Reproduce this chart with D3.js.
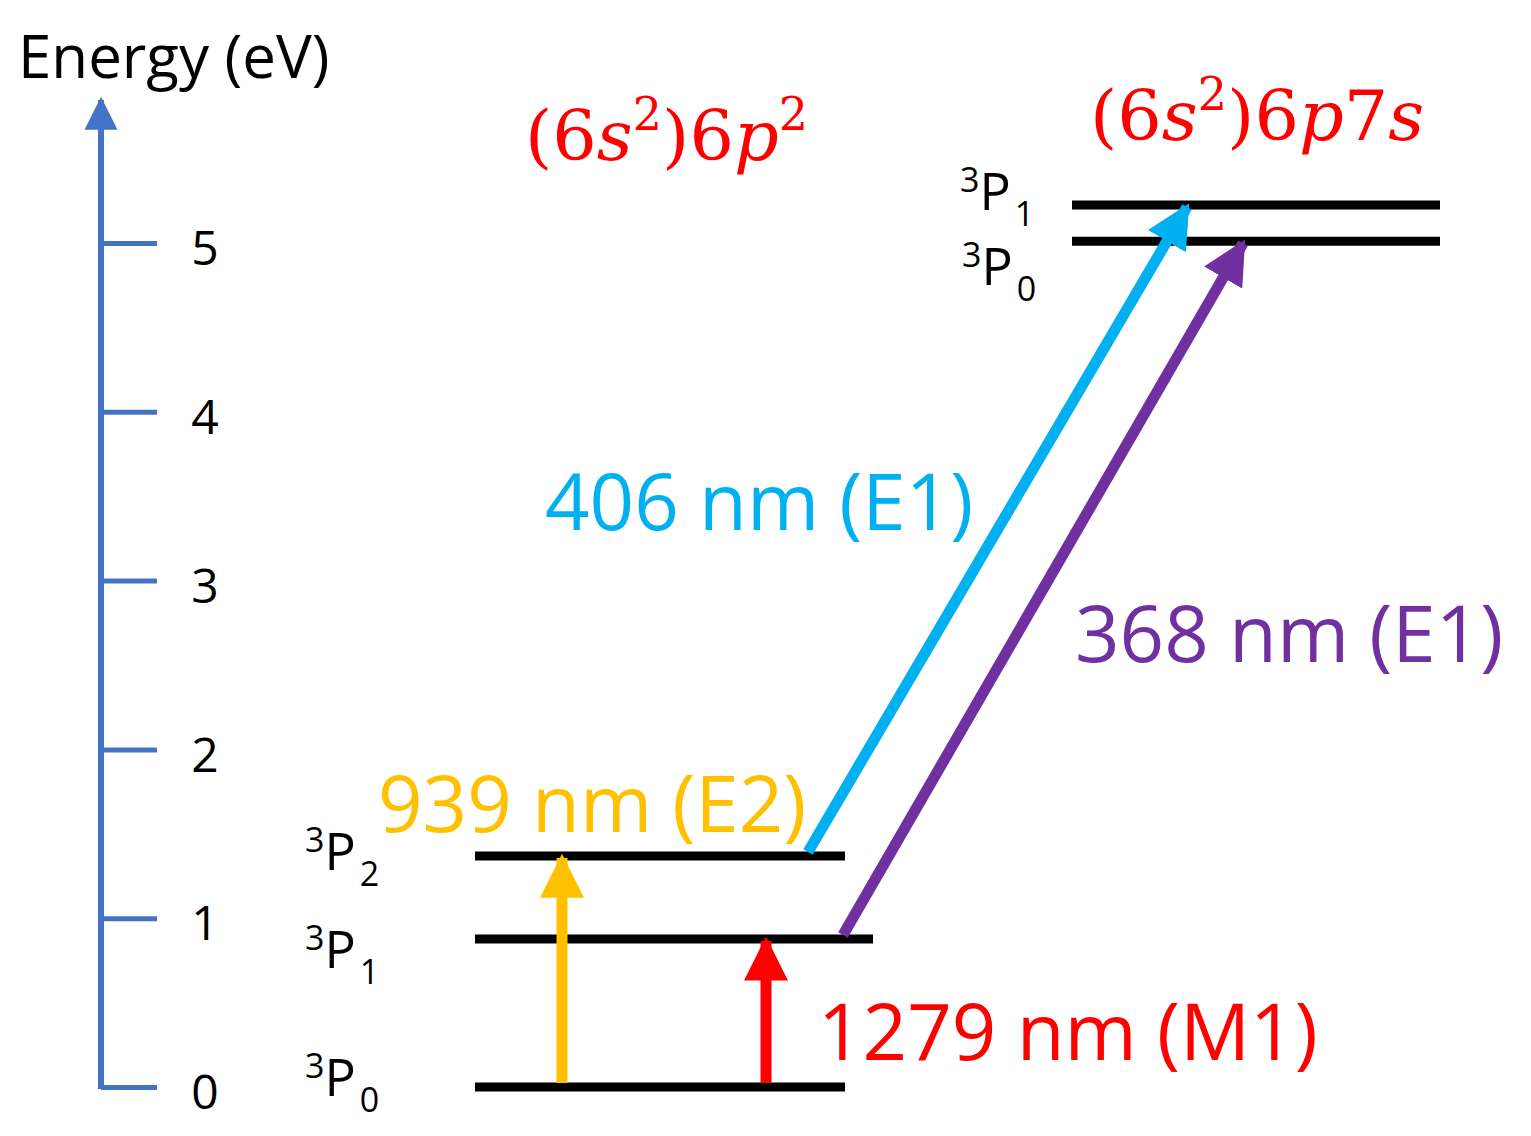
<!DOCTYPE html>
<html>
<head>
  <meta charset="utf-8">
  <title>Pb energy levels</title>
  <style>
    body { margin: 0; background: #fff; }
    svg { display: block; }
    text { font-family: "Open Sans", sans-serif; }
  </style>
</head>
<body>
<svg id="chart" width="1531" height="1136"></svg>
<script src="https://cdnjs.cloudflare.com/ajax/libs/d3/7.8.5/d3.min.js"></script>
<script>
  var axisTicks = [0, 1, 2, 3, 4, 5];
  // levels: name, sub, energy (eV), x-start, x-end
  var levelNames = ['P', 'P', 'P', 'P', 'P'];
  var levelJ = ['0', '1', '2', '0', '1'];
  var levelEnergy = [0, 0.877, 1.368, 5.01, 5.225];
  var levelX0 = [475, 475, 475, 1072, 1072];
  var levelX1 = [845, 873, 845, 1440, 1440];
  // transitions
  var transLabels = ['939 nm (E2)', '1279 nm (M1)', '406 nm (E1)', '368 nm (E1)'];
  var transColors = ['#FFC000', '#FF0000', '#00B0F0', '#7030A0'];
  var transFromE = [0, 0, 1.368, 0.877];
  var transToE = [1.368, 0.877, 5.225, 5.01];
  var transX0 = [562, 766, 808, 843];
  var transX1 = [562, 766, 1187, 1243];

  var svg = d3.select('#chart');
  var y = d3.scaleLinear().domain([0, 5]).range([1087, 243]);
  var axisBlue = '#4472C4';

  svg.append('defs').selectAll('marker')
      .data(transColors.concat([axisBlue]))
    .enter().append('marker')
      .attr('id', function(d, i) { return 'ah' + i; })
      .attr('viewBox', '0 0 10 10').attr('refX', 9).attr('refY', 5)
      .attr('markerWidth', function(d, i) { return i === 4 ? 5.5 : 4; })
      .attr('markerHeight', function(d, i) { return i === 4 ? 5.5 : 4; })
      .attr('markerUnits', 'strokeWidth')
      .attr('orient', 'auto')
    .append('path').attr('d', 'M0,0L10,5L0,10z').attr('fill', function(d) { return d; });

  // energy axis
  svg.append('line').attr('x1', 101).attr('x2', 101).attr('y1', y(0) + 2).attr('y2', 100)
      .attr('stroke', axisBlue).attr('stroke-width', 6)
      .attr('marker-end', 'url(#ah4)');
  var axis = d3.axisRight(y).tickValues(axisTicks).tickSize(56).tickFormat(d3.format('d'));
  var ag = svg.append('g').attr('transform', 'translate(101,0)').call(axis);
  ag.select('.domain').remove();
  ag.selectAll('.tick line').attr('stroke', axisBlue).attr('stroke-width', 5);
  ag.selectAll('.tick text').attr('x', 104).attr('fill', '#000')
      .attr('font-size', 48).attr('font-family', '"Open Sans", sans-serif')
      .attr('dy', '0.45em').attr('text-anchor', 'middle');

  svg.append('text').attr('x', 18).attr('y', 78).attr('font-size', 60).text('Energy (eV)');

  // levels
  levelEnergy.forEach(function(e, i) {
    svg.append('line').attr('x1', levelX0[i]).attr('x2', levelX1[i])
        .attr('y1', y(e)).attr('y2', y(e)).attr('stroke', '#000').attr('stroke-width', 9);
  });

  // state labels
  var labelPos = [[305, 1096], [305, 968], [305, 870], [962, 285], [960, 210]];
  levelEnergy.forEach(function(e, i) {
    var t = svg.append('text').attr('x', labelPos[i][0]).attr('y', labelPos[i][1])
        .attr('font-size', 52);
    t.append('tspan').attr('font-size', 34).attr('dy', -18).text('3');
    t.append('tspan').attr('dy', 18).text(levelNames[i]);
    t.append('tspan').attr('font-size', 34).attr('dy', 16).attr('dx', 4).text(levelJ[i]);
  });

  // transitions
  transLabels.forEach(function(l, i) {
    svg.append('line')
        .attr('x1', transX0[i]).attr('y1', y(transFromE[i]) - 4)
        .attr('x2', transX1[i]).attr('y2', y(transToE[i]) + 2)
        .attr('stroke', transColors[i]).attr('stroke-width', 11)
        .attr('marker-end', 'url(#ah' + i + ')');
  });
  var transLabelPos = [[378, 832], [818, 1060], [545, 530], [1075, 662]];
  transLabels.forEach(function(l, i) {
    svg.append('text').attr('x', transLabelPos[i][0]).attr('y', transLabelPos[i][1])
        .attr('font-size', 78).attr('fill', transColors[i]).text(l);
  });

  // configurations: [text, italic, superscript]
  function config(x, yy, parts) {
    var t = svg.append('text').attr('x', x).attr('y', yy).attr('fill', '#FF0000')
        .attr('font-size', 70).style('font-family', '"DejaVu Serif", serif');
    var up = false;
    parts.forEach(function(p) {
      var s = t.append('tspan').text(p[0]);
      if (p[1]) s.attr('font-style', 'italic');
      if (p[2]) { s.attr('font-size', 46).attr('dy', -30); up = true; }
      else if (up) { s.attr('dy', 30); up = false; }
    });
  }
  config(525, 160, [['(6', 0], ['s', 1], ['2', 0, 1], [')6', 0], ['p', 1], ['2', 0, 1]]);
  config(1090, 140, [['(6', 0], ['s', 1], ['2', 0, 1], [')6', 0], ['p', 1], ['7', 0], ['s', 1]]);
</script>
</body>
</html>
